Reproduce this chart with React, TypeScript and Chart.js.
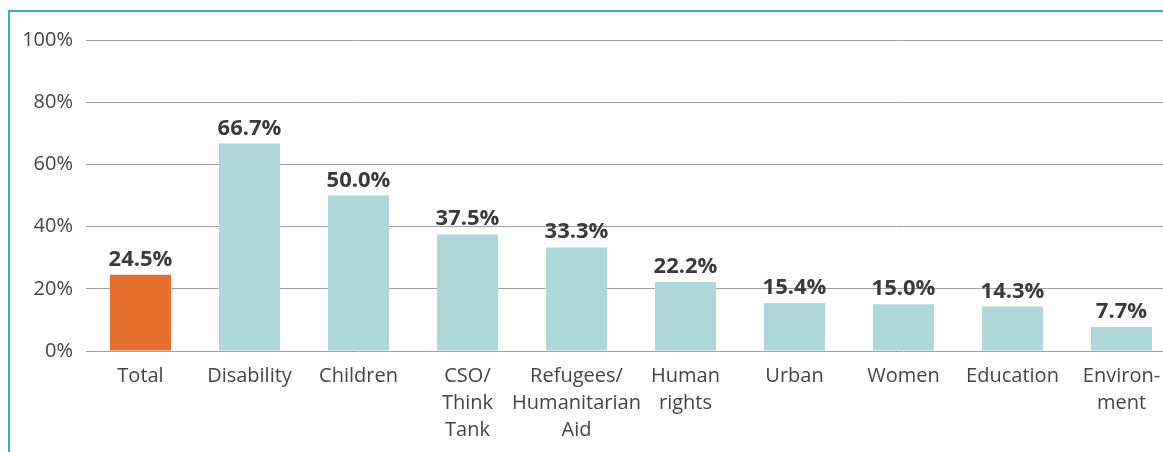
import React, { useEffect, useRef } from "react";
import { Chart, registerables } from "chart.js";

Chart.register(...registerables);

const categories: (string | string[])[] = [
  "Total",
  "Disability",
  "Children",
  ["CSO/", "Think", "Tank"],
  ["Refugees/", "Humanitarian", "Aid"],
  ["Human", "rights"],
  "Urban",
  "Women",
  "Education",
  ["Environ-", "ment"],
];
const values: number[] = [24.5, 66.7, 50.0, 37.5, 33.3, 22.2, 15.4, 15.0, 14.3, 7.7];
const barColors: string[] = [
  "#E8702E", "#AED7D9", "#AED7D9", "#AED7D9", "#AED7D9",
  "#AED7D9", "#AED7D9", "#AED7D9", "#AED7D9", "#AED7D9",
];
const yTicks: number[] = [0, 20, 40, 60, 80, 100];

const FONT = '"Open Sans", "Noto Sans", sans-serif';

const valueLabelPlugin = {
  id: "valueLabels",
  afterDatasetsDraw(chart: any) {
    const ctx = chart.ctx;
    const meta = chart.getDatasetMeta(0);
    ctx.save();
    ctx.font = `bold 22px ${FONT}`;
    ctx.fillStyle = "#3a3a3a";
    ctx.textAlign = "center";
    ctx.textBaseline = "alphabetic";
    meta.data.forEach((bar: any, i: number) => {
      ctx.fillText(values[i].toFixed(1) + "%", bar.x, bar.y - 9);
    });
    ctx.restore();
  },
};

export default function App() {
  const canvasRef = useRef<HTMLCanvasElement | null>(null);

  useEffect(() => {
    if (!canvasRef.current) return;
    const chart = new Chart(canvasRef.current, {
      type: "bar",
      data: {
        labels: categories,
        datasets: [
          {
            data: values,
            backgroundColor: barColors,
            barPercentage: 0.56,
            categoryPercentage: 1,
          },
        ],
      },
      options: {
        animation: false,
        responsive: false,
        maintainAspectRatio: false,
        layout: { padding: { top: 40, right: 1, left: 0, bottom: 0 } },
        plugins: {
          legend: { display: false },
          tooltip: { enabled: false },
          title: { display: false },
        },
        scales: {
          x: {
            grid: { display: false, drawTicks: false },
            border: { display: false },
            afterFit: (scale: any) => {
              scale.height = 101;
            },
            ticks: {
              autoSkip: false,
              maxRotation: 0,
              minRotation: 0,
              padding: 12,
              color: "#444444",
              font: { family: FONT, size: 20, lineHeight: 1.35 },
            },
          },
          y: {
            min: 0,
            max: 100,
            afterFit: (scale: any) => {
              scale.width = 86;
            },
            afterBuildTicks: (scale: any) => {
              scale.ticks = yTicks.map((v) => ({ value: v }));
            },
            grid: { color: "#A0A0A0", lineWidth: 1, drawTicks: false },
            border: { display: false },
            ticks: {
              padding: 13,
              color: "#444444",
              font: { family: FONT, size: 20 },
              callback: (v: any) => v + "%",
            },
          },
        },
      },
      plugins: [valueLabelPlugin],
    });
    return () => chart.destroy();
  }, []);

  return (
    <div
      style={{
        position: "absolute",
        left: 0,
        top: 0,
        width: 1163,
        height: 452,
        overflow: "hidden",
        background: "#ffffff",
      }}
    >
      <div
        style={{
          position: "absolute",
          left: 8,
          top: 10,
          width: 2000,
          height: 1000,
          borderLeft: "2px solid #35B3B6",
          borderTop: "2px solid #35B3B6",
        }}
      />
      <canvas
        ref={canvasRef}
        width={1177}
        height={452}
        style={{ position: "absolute", left: 0, top: 0, width: 1177, height: 452 }}
      />
    </div>
  );
}
